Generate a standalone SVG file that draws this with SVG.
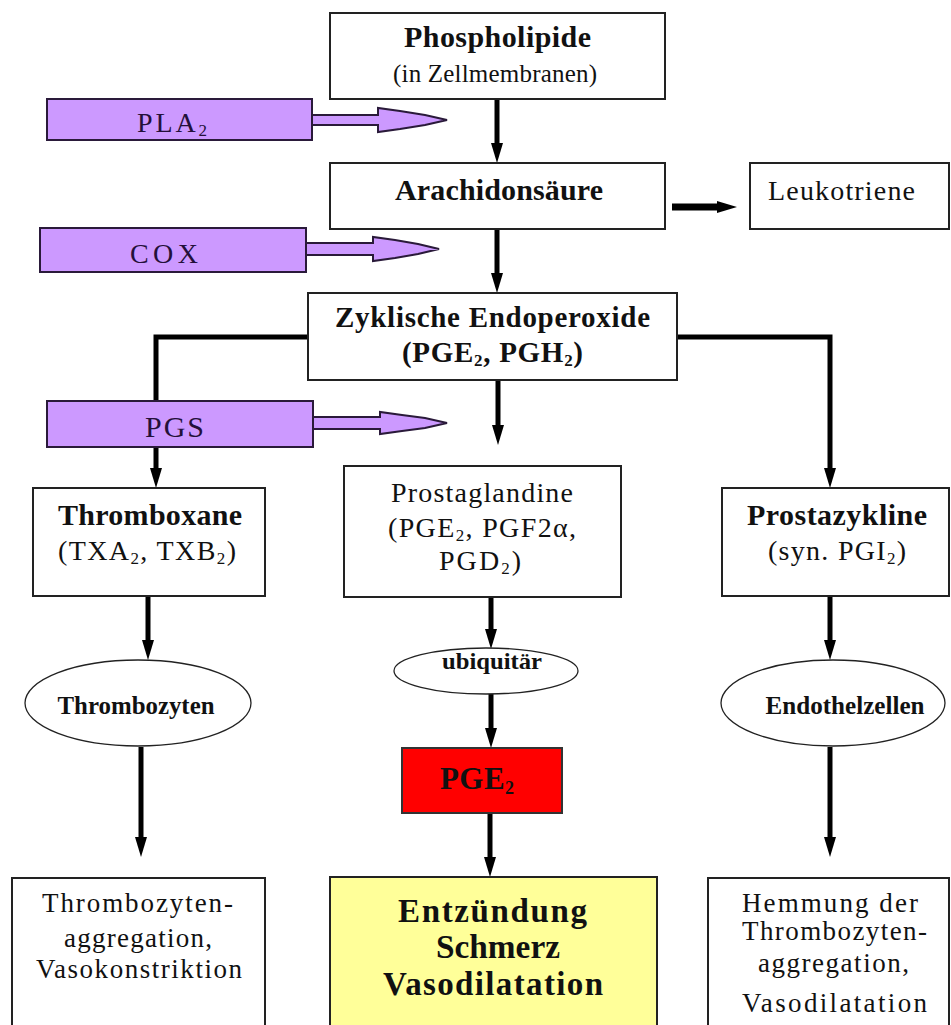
<svg xmlns="http://www.w3.org/2000/svg" width="951" height="1025" viewBox="0 0 951 1025">
<style>
text{font-family:"Liberation Serif","Times New Roman",serif;fill:#111;}
.box{fill:#fff;stroke:#222;stroke-width:2;}
.ell{fill:#fff;stroke:#222;stroke-width:1.3;}
.enz{fill:#cc99ff;stroke:#2a1a3a;stroke-width:2;}
.enzt{fill:#24103a;}
.b{font-weight:bold;}
.c{text-anchor:middle;}
.con{fill:none;stroke:#000;stroke-width:5;marker-end:url(#ah);}
</style>
<defs>
<marker id="ah" markerUnits="userSpaceOnUse" viewBox="0 0 20 12" markerWidth="20" markerHeight="12" refX="5" refY="6" orient="auto">
<path d="M0,0 L20,6 L0,12 Z" fill="#000"/>
</marker>
</defs>
<rect width="951" height="1025" fill="#fff"/>

<g id="connectors">
<line class="con" x1="497" y1="99" x2="497" y2="148"/>
<line class="con" x1="497" y1="229" x2="497" y2="278"/>
<line class="con" style="stroke-width:7" x1="672" y1="207" x2="722" y2="207"/>
<line class="con" x1="498" y1="380" x2="498" y2="430"/>
<path class="con" d="M308,337 H156 V473"/>
<path class="con" d="M677,337 H830 V473"/>
<line class="con" x1="148" y1="596" x2="148" y2="645"/>
<line class="con" x1="141" y1="747" x2="141" y2="842"/>
<line class="con" x1="491" y1="597" x2="491" y2="634"/>
<line class="con" x1="491" y1="694" x2="491" y2="733"/>
<line class="con" x1="490" y1="813" x2="490" y2="862"/>
<line class="con" x1="830" y1="596" x2="830" y2="645"/>
<line class="con" x1="830" y1="747" x2="830" y2="842"/>
</g>

<g id="phospholipide">
<rect class="box" x="330" y="13" width="335" height="86"/>
<text class="b c" x="497.5" y="47" font-size="30" textLength="187" lengthAdjust="spacing">Phospholipide</text>
<text class="c" x="495" y="82" font-size="25" textLength="204" lengthAdjust="spacing">(in Zellmembranen)</text>
</g>

<g id="pla2">
<rect class="enz" x="47" y="99" width="265" height="41"/>
<path class="enz" d="M312,115 H378 V108 L400,111 L425,115 L447,120 L425,125 L400,129 L378,132 V125 H312 Z"/>
<text class="enzt" x="137" y="132" font-size="28" textLength="70" lengthAdjust="spacing">PLA<tspan font-size="17" dy="4">2</tspan></text>
</g>

<g id="arachidonsaeure">
<rect class="box" x="330" y="163" width="335" height="66"/>
<text class="b c" x="499" y="200" font-size="30" textLength="208" lengthAdjust="spacing">Arachidonsäure</text>
</g>

<g id="leukotriene">
<rect class="box" x="750" y="163" width="199" height="66"/>
<text x="768" y="200" font-size="28" textLength="147" lengthAdjust="spacing">Leukotriene</text>
</g>

<g id="cox">
<rect class="enz" x="40" y="228" width="266" height="44"/>
<path class="enz" d="M306,243 H373 V237 L395,240 L418,244 L439,249 L418,254 L395,258 L373,261 V255 H306 Z"/>
<text class="enzt" x="130" y="263" font-size="28" textLength="68" lengthAdjust="spacing">COX</text>
</g>

<g id="endoperoxide">
<rect class="box" x="308" y="293" width="369" height="87"/>
<text class="b c" x="492.5" y="327" font-size="29" textLength="315" lengthAdjust="spacing">Zyklische Endoperoxide</text>
<text class="b" x="402" y="362" font-size="29" textLength="181" lengthAdjust="spacing">(PGE<tspan font-size="17" dy="4">2</tspan><tspan dy="-4">, PGH</tspan><tspan font-size="17" dy="4">2</tspan><tspan dy="-4">)</tspan></text>
</g>

<g id="pgs">
<rect class="enz" x="47" y="401" width="266" height="46"/>
<path class="enz" d="M313,417 H380 V412 L402,415 L425,418 L447,423 L425,428 L402,431 L380,434 V429 H313 Z"/>
<text class="enzt" x="145" y="437" font-size="30" textLength="59" lengthAdjust="spacing">PGS</text>
</g>

<g id="thromboxane">
<rect class="box" x="33" y="488" width="232" height="108"/>
<text class="b c" x="150" y="525" font-size="30" textLength="184" lengthAdjust="spacing">Thromboxane</text>
<text x="58" y="560" font-size="28" textLength="178" lengthAdjust="spacing">(TXA<tspan font-size="17" dy="4">2</tspan><tspan dy="-4">, TXB</tspan><tspan font-size="17" dy="4">2</tspan><tspan dy="-4">)</tspan></text>
</g>

<g id="prostaglandine">
<rect class="box" x="344" y="466" width="277" height="131"/>
<text class="c" x="482" y="502" font-size="28" textLength="182" lengthAdjust="spacing">Prostaglandine</text>
<text x="388" y="537" font-size="28" textLength="188" lengthAdjust="spacing">(PGE<tspan font-size="17" dy="4">2</tspan><tspan dy="-4">, PGF2α,</tspan></text>
<text x="439" y="570" font-size="28" textLength="82" lengthAdjust="spacing">PGD<tspan font-size="17" dy="4">2</tspan><tspan dy="-4">)</tspan></text>
</g>

<g id="prostazykline">
<rect class="box" x="722" y="488" width="227" height="108"/>
<text class="b c" x="837" y="525" font-size="30" textLength="180" lengthAdjust="spacing">Prostazykline</text>
<text x="768" y="560" font-size="28" textLength="138" lengthAdjust="spacing">(syn. PGI<tspan font-size="17" dy="4">2</tspan><tspan dy="-4">)</tspan></text>
</g>

<g id="thrombozyten">
<ellipse class="ell" cx="138" cy="703" rx="113" ry="43"/>
<text class="b c" x="136" y="714" font-size="25" textLength="157" lengthAdjust="spacingAndGlyphs">Thrombozyten</text>
</g>

<g id="ubiquitaer">
<ellipse class="ell" cx="486" cy="671" rx="92" ry="23"/>
<text class="b c" x="492" y="669" font-size="24" textLength="100" lengthAdjust="spacingAndGlyphs">ubiquitär</text>
</g>

<g id="endothelzellen">
<ellipse class="ell" cx="833" cy="703" rx="112" ry="43"/>
<text class="b c" x="845" y="714" font-size="25" textLength="159" lengthAdjust="spacingAndGlyphs">Endothelzellen</text>
</g>

<g id="pge2">
<rect x="402" y="748" width="160" height="65" fill="#ff0000" stroke="#333" stroke-width="2"/>
<text class="b" x="440" y="789" font-size="31" fill="#1a0000" textLength="74" lengthAdjust="spacing">PGE<tspan font-size="18" dy="5">2</tspan></text>
</g>

<g id="effekt-links">
<rect class="box" x="12" y="878" width="253" height="160"/>
<text class="c" x="137.5" y="912" font-size="27" textLength="191" lengthAdjust="spacing">Thrombozyten-</text>
<text class="c" x="138" y="947" font-size="27" textLength="148" lengthAdjust="spacing">aggregation,</text>
<text class="c" x="139" y="978" font-size="27" textLength="206" lengthAdjust="spacing">Vasokonstriktion</text>
</g>

<g id="effekt-mitte">
<rect x="330" y="877" width="327" height="160" fill="#ffff99" stroke="#222" stroke-width="2"/>
<text class="b c" x="492.5" y="922" font-size="33" textLength="189" lengthAdjust="spacing">Entzündung</text>
<text class="b c" x="498" y="958" font-size="33" textLength="124" lengthAdjust="spacingAndGlyphs">Schmerz</text>
<text class="b c" x="493" y="995" font-size="33" textLength="220" lengthAdjust="spacing">Vasodilatation</text>
</g>

<g id="effekt-rechts">
<rect class="box" x="708" y="878" width="241" height="160"/>
<text class="c" x="830" y="912" font-size="27" textLength="176" lengthAdjust="spacing">Hemmung der</text>
<text class="c" x="834.5" y="940" font-size="27" textLength="185" lengthAdjust="spacing">Thrombozyten-</text>
<text class="c" x="833.5" y="972" font-size="27" textLength="151" lengthAdjust="spacing">aggregation,</text>
<text class="c" x="834.5" y="1012" font-size="27" textLength="185" lengthAdjust="spacing">Vasodilatation</text>
</g>
</svg>
